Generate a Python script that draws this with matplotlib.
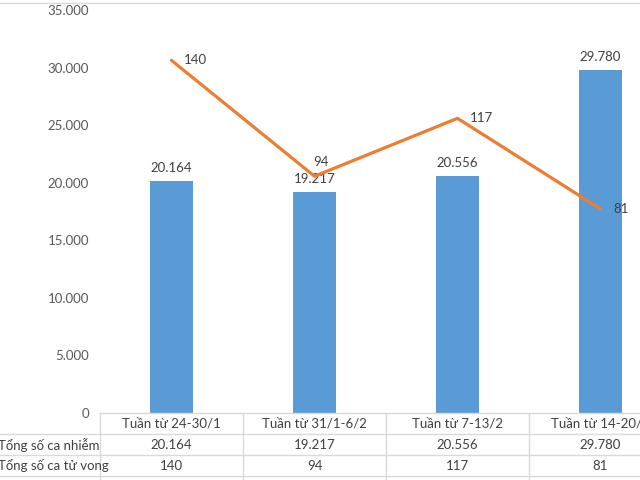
import matplotlib.pyplot as plt
from matplotlib.lines import Line2D
from matplotlib.transforms import blended_transform_factory

plt.rcParams['font.family'] = ['Lato', 'Noto Sans', 'DejaVu Sans']

weeks = ['Tuần từ 24-30/1', 'Tuần từ 31/1-6/2', 'Tuần từ 7-13/2', 'Tuần từ 14-20/2']
cases = [20164, 19217, 20556, 29780]
deaths = [140, 94, 117, 81]
row_names = ['Tổng số ca nhiễm', 'Tổng số ca tử vong']
y_ticks = [0, 5000, 10000, 15000, 20000, 25000, 30000, 35000]

bar_color = '#5B9BD5'
line_color = '#ED7D31'
text_color = '#404040'
grid_color = '#D9D9D9'

W, H = 640, 480


def fy(py):
    # pixel row (from top) -> figure fraction
    return 1 - py / H


def fmt(v):
    return f'{v:,}'.replace(',', '.')


fig = plt.figure(figsize=(6.4, 4.8), dpi=100)
ax = fig.add_axes([100 / W, fy(413), 572 / W, 403 / H])
x = list(range(len(weeks)))

ax.bar(x, cases, width=0.3, color=bar_color, zorder=2)
for xi, v in zip(x, cases):
    ax.annotate(fmt(v), (xi, v), xytext=(0, 5), textcoords='offset points',
                ha='center', va='bottom', fontsize=9.5, color=text_color)

ax.set_xlim(-0.5, 3.5)
ax.set_ylim(0, 35000)
ax.set_yticks(y_ticks)
ax.set_yticklabels([fmt(t) for t in y_ticks], fontsize=9.5, color='#595959')
ax.tick_params(axis='y', length=0, pad=8)
ax.set_xticks([])
for s in ax.spines.values():
    s.set_visible(False)

ax2 = ax.twinx()
ax2.set_ylim(0, 160)
ax2.plot(x, deaths, color=line_color, lw=2.3, solid_capstyle='round', zorder=3)
offsets = [(9, 0), (-1, 10), (9, 0), (9, 0)]
for xi, v, off in zip(x, deaths, offsets):
    ax2.annotate(str(v), (xi, v), xytext=off, textcoords='offset points',
                 ha='left', va='center', fontsize=9.5, color=text_color)
ax2.set_yticks([])
for s in ax2.spines.values():
    s.set_visible(False)

# chart border line at the top
fig.add_artist(Line2D([0, 1], [fy(3), fy(3)], transform=fig.transFigure,
                      color=grid_color, lw=1))

# data table below the plot
tr = blended_transform_factory(ax.transData, fig.transFigure)
fig.add_artist(Line2D([-0.5, 4], [fy(413), fy(413)], transform=tr, color=grid_color, lw=1))
for py in [434, 455, 476]:
    fig.add_artist(Line2D([0, 1], [fy(py), fy(py)], transform=fig.transFigure,
                          color=grid_color, lw=1))
for bx in [-0.5, 0.5, 1.5, 2.5, 3.5]:
    fig.add_artist(Line2D([bx, bx], [fy(413), 0], transform=tr, color=grid_color, lw=1))

for xi, w in zip(x, weeks):
    fig.text(xi, fy(424), w, transform=tr, ha='center', va='center',
             fontsize=9.5, color=text_color)
for xi, v in zip(x, cases):
    fig.text(xi, fy(445), fmt(v), transform=tr, ha='center', va='center',
             fontsize=9.5, color=text_color)
for xi, v in zip(x, deaths):
    fig.text(xi, fy(466), str(v), transform=tr, ha='center', va='center',
             fontsize=9.5, color=text_color)
for py, name in zip([445, 466], row_names):
    fig.text(-2 / W, fy(py), name, ha='left', va='center', fontsize=9.5, color=text_color)

fig.savefig('out.png', dpi=100)
